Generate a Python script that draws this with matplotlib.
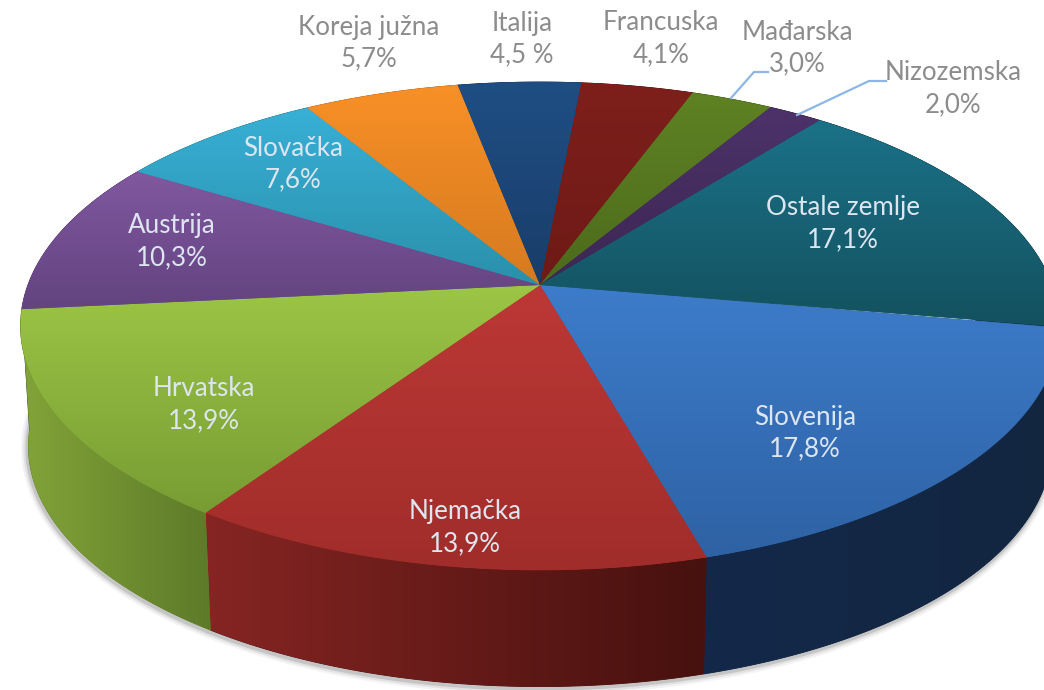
import numpy as np
import matplotlib
matplotlib.use('Agg')
import matplotlib.pyplot as plt
from matplotlib.colors import to_rgb
from matplotlib.patches import Polygon

# clockwise from Slovenija
countries = ['Slovenija', 'Njemačka', 'Hrvatska', 'Austrija', 'Slovačka', 'Koreja južna',
             'Italija', 'Francuska', 'Mađarska', 'Nizozemska', 'Ostale zemlje']
shares = [17.8, 13.9, 13.9, 10.3, 7.6, 5.7, 4.5, 4.1, 3.0, 2.0, 17.1]
share_labels = ['17,8%', '13,9%', '13,9%', '10,3%', '7,6%', '5,7%',
                '4,5 %', '4,1%', '3,0%', '2,0%', '17,1%']

top_light = ['#3D7CCB', '#BC3836', '#9CC646', '#80589F', '#38B0D6', '#F89026',
             '#1F4E84', '#7E1F1B', '#5F8223', '#4C3269', '#1B7288']
top_dark = ['#2E62A4', '#A02D2A', '#789C33', '#634380', '#2A90AB', '#D67A20',
            '#193D69', '#6E1A17', '#4C6A1C', '#3C2754', '#13515F']
wall_left = ['#14294A', '#862523', '#82A438', '#5E4078', '#257F98', '#B96A1C',
             '#153358', '#5A1512', '#3F5817', '#2E1F41', '#123F4E']
wall_right = ['#122640', '#46110E', '#5D7A29', '#4C3361', '#1F6A80', '#A55E18',
              '#122C4C', '#4C1210', '#354A13', '#271A37', '#0F3441']
text_colors = ['#DDE6F0'] * 5 + ['#8C8C8C'] * 5 + ['#DDE6F0']

# label centres in pixels, first line / second line
label_x = [805, 465, 204, 172, 293, 369, 522, 661, 797, 953, 843]
label_y = [417, 512, 389, 226, 148, 27, 23, 23, 32, 73, 208]
line_gap = 32
leader_color = '#8DB6E6'
leaders = [([731, 754, 768], [98, 72, 72]), ([797, 869, 886], [115, 81, 81])]

CX, CY = 540, 285
RX, BY, PERSP = 512, 237, 0.168
DEPTH, BOTTOM_SCALE = 121, 0.985
START = 100.1


def project(theta, bottom=False):
    u = np.sin(np.radians(theta))
    v = np.cos(np.radians(theta))
    w = 1 + PERSP * v
    x = RX * u / w
    y = -BY * v / w
    if bottom:
        return CX + BOTTOM_SCALE * x, CY + DEPTH + BOTTOM_SCALE * y
    return CX + x, CY + y


def gradient_fill(ax, pts, c0, c1, horizontal, zorder):
    # edge hides the seam between neighbouring slices
    patch = Polygon(pts, closed=True, facecolor=c0, edgecolor=c1, lw=0.6, zorder=zorder)
    ax.add_patch(patch)
    t = np.linspace(0, 1, 256)
    rgb = np.outer(1 - t, to_rgb(c0)) + np.outer(t, to_rgb(c1))
    img = rgb[None, :, :] if horizontal else rgb[:, None, :]
    x0, y0 = pts.min(axis=0)
    x1, y1 = pts.max(axis=0)
    im = ax.imshow(img, extent=(x0, x1, y1, y0), aspect='auto', origin='upper',
                   zorder=zorder + 0.1, interpolation='bilinear')
    im.set_clip_path(patch)


fig = plt.figure(figsize=(10.44, 6.9), dpi=100)
ax = fig.add_axes([0, 0, 1, 1])
plt.rcParams['font.family'] = ['Lato', 'DejaVu Sans']

edges = START + np.cumsum([0] + shares) * 3.6

# soft shadow under the rim
th = np.linspace(92, 278, 300)
sx, sy = project(th, bottom=True)
for lw, alpha in [(9, 0.06), (6, 0.10), (3, 0.18)]:
    ax.plot(sx - 1, sy + 2, color='#444444', lw=lw, alpha=alpha, zorder=1, solid_capstyle='round')

# walls first, then top faces
for i in range(len(shares)):
    th = np.linspace(edges[i], edges[i + 1], 120)
    xt, yt = project(th)
    xb, yb = project(th, bottom=True)
    pts = np.column_stack([np.r_[xt, xb[::-1]], np.r_[yt, yb[::-1]]])
    # the wall is shaded along x, left colour on the left side
    gradient_fill(ax, pts, wall_left[i], wall_right[i], True, 2 + (i in (0, 1, 2)))

for i in range(len(shares)):
    th = np.linspace(edges[i], edges[i + 1], 120)
    xt, yt = project(th)
    pts = np.column_stack([np.r_[CX, xt], np.r_[CY, yt]])
    gradient_fill(ax, pts, top_light[i], top_dark[i], False, 5)

for xs, ys in leaders:
    ax.plot(xs, ys, color=leader_color, lw=1.6, zorder=7)

for i, name in enumerate(countries):
    ax.text(label_x[i], label_y[i], name, ha='center', va='center', fontsize=18.7,
            fontweight='normal', color=text_colors[i], zorder=8)
    ax.text(label_x[i], label_y[i] + line_gap, share_labels[i], ha='center', va='center',
            fontsize=18.7, fontweight='normal', color=text_colors[i], zorder=8)

ax.set_xlim(0, 1044)
ax.set_ylim(690, 0)
ax.axis('off')
fig.savefig('out.png', dpi=100, facecolor='white')
